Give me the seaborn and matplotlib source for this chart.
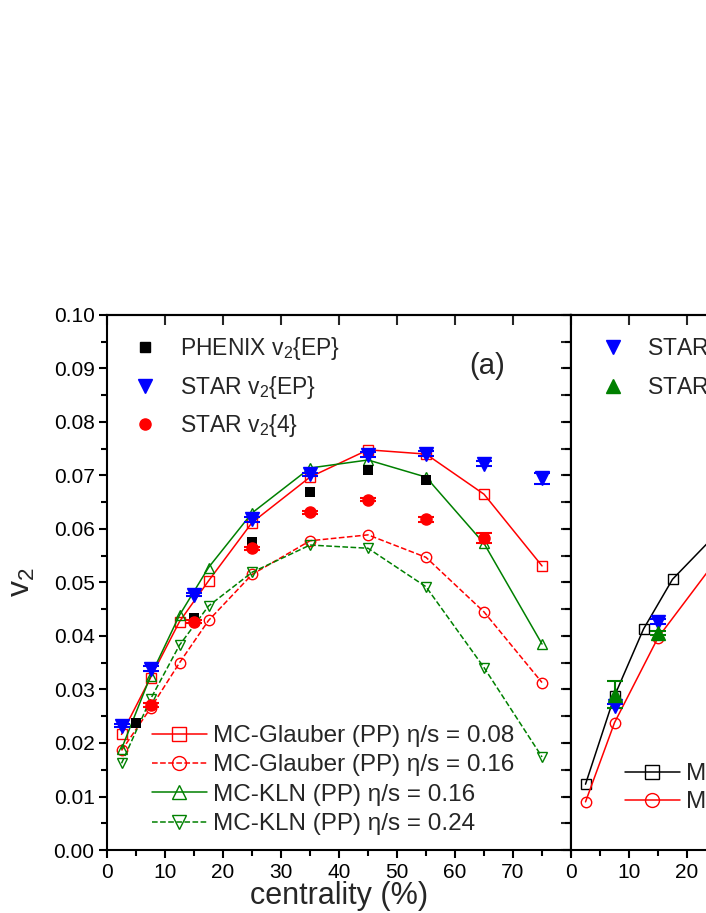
import numpy as np
import pandas as pd
import matplotlib
matplotlib.use('Agg')
import matplotlib.pyplot as plt
from matplotlib.lines import Line2D
from matplotlib.ticker import MultipleLocator
import seaborn as sns

# ---- data (centrality in %, v2) ----
# panel (a): Au+Au
phenix_cent = [5, 15, 25, 35, 45, 55]
phenix_v2 = [0.0237, 0.0433, 0.0576, 0.0670, 0.0710, 0.0692]

star_ep_cent = [2.5, 7.5, 15, 25, 35, 45, 55, 65, 75]
star_ep_v2 = [0.0232, 0.0339, 0.0477, 0.0618, 0.0702, 0.0739, 0.0741, 0.0722, 0.0695]
star_ep_err = [0.0003, 0.0004, 0.0003, 0.0004, 0.0003, 0.0004, 0.0004, 0.0005, 0.0010]

star4_cent = [7.5, 15, 25, 35, 45, 55, 65]
star4_v2 = [0.0271, 0.0427, 0.0564, 0.0631, 0.0655, 0.0618, 0.0583]
star4_err = [0.0003, 0.0003, 0.0003, 0.0003, 0.0003, 0.0004, 0.0010]

model_cent = [2.5, 7.5, 12.5, 17.5, 25, 35, 45, 55, 65, 75]
glauber_008 = [0.0216, 0.0322, 0.0427, 0.0503, 0.0612, 0.0697, 0.0748, 0.0740, 0.0665, 0.0531]
glauber_016 = [0.0186, 0.0265, 0.0350, 0.0429, 0.0515, 0.0578, 0.0589, 0.0547, 0.0445, 0.0313]
kln_016 = [0.0189, 0.0325, 0.0439, 0.0528, 0.0630, 0.0714, 0.0729, 0.0697, 0.0573, 0.0385]
kln_024 = [0.0162, 0.0282, 0.0383, 0.0456, 0.0519, 0.0570, 0.0564, 0.0492, 0.0341, 0.0174]

# panel (b): only the left edge is visible
cu_star_ep_cent = [7.5, 15]
cu_star_ep_v2 = [0.0269, 0.0427]
cu_star_ep_err = [0.0003, 0.0004]
cu_star2_cent = [7.5, 15]
cu_star2_v2 = [0.0290, 0.0406]
cu_star2_err = [0.0025, 0.0004]
cu_black_cent = [2.5, 7.5, 12.5, 17.5, 25]
cu_black_v2 = [0.0123, 0.0288, 0.0413, 0.0506, 0.0590]
cu_red_cent = [2.5, 7.5, 15, 25]
cu_red_v2 = [0.0090, 0.0238, 0.0397, 0.0541]

x_ticks = [0, 10, 20, 30, 40, 50, 60, 70]

# ---- style ----
sns.set_theme(style='ticks')
plt.rcParams['font.family'] = ['Liberation Sans', 'DejaVu Sans']
plt.rcParams['mathtext.fontset'] = 'custom'
plt.rcParams['mathtext.rm'] = 'Liberation Sans'
plt.rcParams['mathtext.it'] = 'Liberation Sans:italic'
plt.rcParams['axes.linewidth'] = 1.5
plt.rcParams['axes.edgecolor'] = 'black'

GREEN = '#008000'
RED = '#ff0000'
BLUE = '#0000ff'

fig = plt.figure(figsize=(7.06, 9.13), dpi=100)
ax = fig.add_axes([0.1516, 0.0690, 0.6572, 0.5860])
axb = fig.add_axes([0.8088, 0.0690, 0.6572, 0.5860])


def model_line(axis, x, y, color, ls, marker):
    sns.lineplot(x=x, y=y, ax=axis, color=color, linestyle=ls, linewidth=1.1,
                 marker=marker, markersize=7.5, markerfacecolor='none',
                 markeredgecolor=color, markeredgewidth=1.0, legend=False,
                 errorbar=None)


def data_points(axis, x, y, err, color, marker, ms):
    axis.errorbar(x, y, yerr=err, fmt=marker, color=color, ms=ms,
                  capsize=6, elinewidth=1.5, capthick=1.5, zorder=5)


# panel (a)
model_line(ax, model_cent, glauber_008, RED, '-', 's')
model_line(ax, model_cent, glauber_016, RED, '--', 'o')
model_line(ax, model_cent, kln_016, GREEN, '-', '^')
model_line(ax, model_cent, kln_024, GREEN, '--', 'v')
sns.scatterplot(x=phenix_cent, y=phenix_v2, ax=ax, color='black', marker='s',
                s=60, linewidth=0, zorder=5, legend=False)
data_points(ax, star_ep_cent, star_ep_v2, star_ep_err, BLUE, 'v', 10)
data_points(ax, star4_cent, star4_v2, star4_err, RED, 'o', 8)

# panel (b)
model_line(axb, cu_black_cent, cu_black_v2, 'black', '-', 's')
model_line(axb, cu_red_cent, cu_red_v2, RED, '-', 'o')
data_points(axb, cu_star_ep_cent, cu_star_ep_v2, cu_star_ep_err, BLUE, 'v', 10)
data_points(axb, cu_star2_cent, cu_star2_v2, cu_star2_err, GREEN, '^', 10)

for a in (ax, axb):
    a.set_xlim(0, 80)
    a.set_ylim(0, 0.10)
    a.set_xticks(x_ticks)
    a.xaxis.set_minor_locator(MultipleLocator(5))
    a.yaxis.set_major_locator(MultipleLocator(0.01))
    a.yaxis.set_minor_locator(MultipleLocator(0.005))
    a.tick_params(which='major', direction='out', length=6, width=1.5,
                  labelsize=15, colors='black', pad=3)
    a.tick_params(which='minor', direction='out', length=4, width=1.5, colors='black')
    a.set_xlabel('')
    a.set_ylabel('')
    for s in a.spines.values():
        s.set_visible(True)
        s.set_linewidth(1.5)
    # top and right ticks pointing inward, no labels
    top = a.secondary_xaxis('top')
    top.set_xticks(x_ticks)
    top.tick_params(direction='in', length=7, width=1.5, labeltop=False)
    right = a.secondary_yaxis('right')
    right.set_yticks(np.arange(0, 0.1001, 0.005))
    right.tick_params(direction='in', length=7, width=1.5, labelright=False)

ax.yaxis.set_major_formatter(matplotlib.ticker.FormatStrFormatter('%.2f'))
axb.set_yticklabels([])

ax.set_xlabel('centrality (%)', fontsize=22)
ax.xaxis.set_label_coords(0.5, -0.058)
ax.set_ylabel('v$_2$', fontsize=23)
ax.yaxis.set_label_coords(-0.15, 0.5)

ax.text(0.82, 0.905, '(a)', transform=ax.transAxes, fontsize=21,
        ha='center', va='center')

# legends panel (a)
h_data = [Line2D([], [], ls='none', marker='s', color='black', ms=7.5),
          Line2D([], [], ls='none', marker='v', color=BLUE, ms=10),
          Line2D([], [], ls='none', marker='o', color=RED, ms=8)]
l_data = ['PHENIX v$_2${EP}', 'STAR v$_2${EP}', 'STAR v$_2${4}']
leg1 = ax.legend(h_data, l_data, loc='upper left', bbox_to_anchor=(0.058, 0.962),
                 frameon=False, fontsize=16.5, handlelength=1.0, handletextpad=1.0,
                 labelspacing=0.5, borderpad=0, borderaxespad=0)
ax.add_artist(leg1)


def model_handle(color, ls, marker):
    return Line2D([], [], color=color, ls=ls, lw=1.1, marker=marker, ms=10,
                  mfc='none', mec=color, mew=1.0)


h_mod = [model_handle(RED, '-', 's'), model_handle(RED, '--', 'o'),
         model_handle(GREEN, '-', '^'), model_handle(GREEN, '--', 'v')]
l_mod = ['MC-Glauber (PP) η/s = 0.08', 'MC-Glauber (PP) η/s = 0.16',
         'MC-KLN (PP) η/s = 0.16', 'MC-KLN (PP) η/s = 0.24']
ax.legend(h_mod, l_mod, loc='lower left', bbox_to_anchor=(0.097, 0.028),
          frameon=False, fontsize=17.5, handlelength=2.25, handletextpad=0.25,
          labelspacing=0.3, borderpad=0, borderaxespad=0)

# legends panel (b)
h_b = [Line2D([], [], ls='none', marker='v', color=BLUE, ms=10),
       Line2D([], [], ls='none', marker='^', color=GREEN, ms=10)]
leg2 = axb.legend(h_b, ['STAR v$_2${EP}', 'STAR v$_2${LYZ}'], loc='upper left',
                  bbox_to_anchor=(0.065, 0.962), frameon=False, fontsize=16.5,
                  handlelength=1.0, handletextpad=1.0, labelspacing=0.5,
                  borderpad=0, borderaxespad=0)
axb.add_artist(leg2)
axb.legend([model_handle('black', '-', 's'), model_handle(RED, '-', 'o')],
           ['MC-Glauber (PP) η/s = 0.08', 'MC-KLN (PP) η/s = 0.16'],
           loc='lower left', bbox_to_anchor=(0.116, 0.069), frameon=False,
           fontsize=17.5, handlelength=2.25, handletextpad=0.25, labelspacing=0.24,
           borderpad=0, borderaxespad=0)

fig.savefig('out.png', dpi=100)
